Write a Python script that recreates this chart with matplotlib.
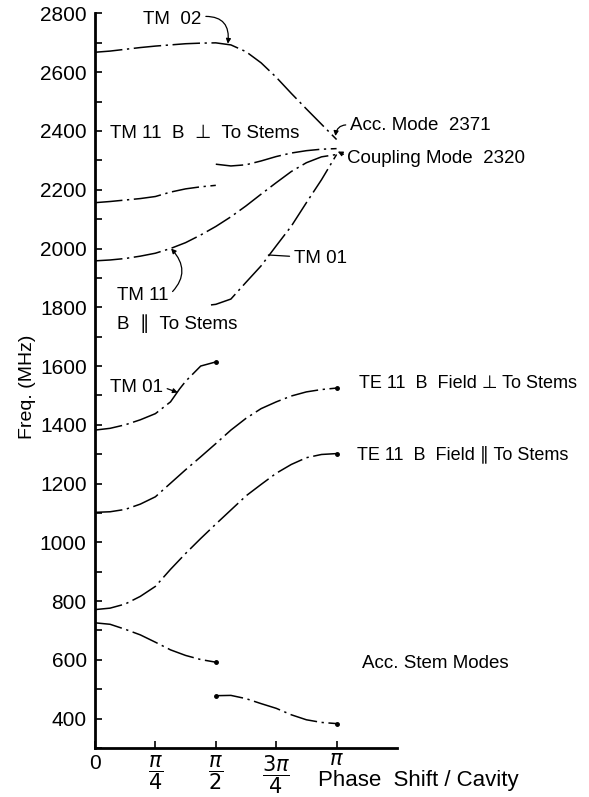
import matplotlib
matplotlib.use('Agg')
import matplotlib.pyplot as plt
import matplotlib.transforms as mtransforms
from matplotlib.ticker import MultipleLocator

plt.rcParams['font.family'] = ['Liberation Sans', 'DejaVu Sans']
plt.rcParams['mathtext.fontset'] = 'dejavusans'

# phase shift is in units of pi/4, frequency in MHz
tm02_x = [0, 0.25, 0.5, 0.75, 1, 1.25, 1.5, 1.75, 2, 2.25, 2.5, 2.75, 3, 3.25, 3.5, 3.75, 4]
tm02_y = [2668, 2672, 2678, 2684, 2689, 2693, 2697, 2699, 2700, 2693, 2670, 2632,
          2583, 2528, 2475, 2423, 2371]

tm11_perp_a_x = [0, 0.25, 0.5, 0.75, 1, 1.25, 1.5, 1.75, 2]
tm11_perp_a_y = [2156, 2160, 2165, 2170, 2177, 2192, 2203, 2210, 2215]
tm11_perp_b_x = [2, 2.25, 2.5, 2.75, 3, 3.25, 3.5, 3.75, 4]
tm11_perp_b_y = [2287, 2281, 2285, 2298, 2313, 2325, 2333, 2338, 2340]

tm11_par_x = [0, 0.25, 0.5, 0.75, 1, 1.25, 1.5, 1.75, 2, 2.25, 2.5, 2.75, 3, 3.25, 3.5, 3.75, 4]
tm11_par_y = [1958, 1961, 1966, 1974, 1984, 2000, 2020, 2046, 2075, 2108, 2145, 2185,
              2224, 2262, 2292, 2312, 2320]

tm01_hi_x = [1.92, 2, 2.25, 2.5, 2.75, 3, 3.25, 3.5, 3.75, 4]
tm01_hi_y = [1808, 1810, 1828, 1885, 1941, 2009, 2076, 2156, 2234, 2320]

tm01_lo_x = [0, 0.25, 0.5, 0.75, 1, 1.25, 1.4, 1.5, 1.75, 2]
tm01_lo_y = [1382, 1388, 1400, 1417, 1438, 1478, 1522, 1548, 1600, 1614]

te11_perp_x = [0, 0.25, 0.5, 0.75, 1, 1.25, 1.5, 1.75, 2, 2.25, 2.5, 2.75, 3, 3.25, 3.5, 3.75, 4]
te11_perp_y = [1102, 1104, 1112, 1130, 1155, 1201, 1247, 1291, 1336, 1382, 1422, 1455,
               1478, 1498, 1512, 1520, 1525]

te11_par_x = [0, 0.25, 0.5, 0.75, 1, 1.25, 1.5, 1.75, 2, 2.25, 2.5, 2.75, 3, 3.25, 3.5, 3.75, 4]
te11_par_y = [771, 776, 790, 816, 850, 908, 962, 1013, 1062, 1110, 1158, 1197,
              1235, 1265, 1288, 1299, 1302]

stem_a_x = [0, 0.25, 0.5, 0.75, 1, 1.25, 1.5, 1.75, 2]
stem_a_y = [726, 721, 704, 685, 660, 634, 615, 601, 592]
stem_b_x = [2, 2.25, 2.5, 2.75, 3, 3.25, 3.5, 3.75, 4]
stem_b_y = [478, 479, 468, 451, 435, 413, 396, 387, 383]

x_ticks = [0, 1, 2, 3, 4]
x_tick_labels = ['0', r'$\dfrac{\pi}{4}$', r'$\dfrac{\pi}{2}$', r'$\dfrac{3\pi}{4}$', r'$\pi$']
y_ticks = list(range(400, 2801, 200))

dash = (0, (18, 3, 1.5, 3))


def curve(ax, x, y, ends=None):
    ax.plot(x, y, color='black', lw=1.1, linestyle=dash)
    if ends is not None:
        ax.plot([x[i] for i in ends], [y[i] for i in ends], 'o',
                color='black', markersize=2.5)


def label(ax, text, xy, xytext, rad, relpos, head=True):
    ax.annotate(text, xy=xy, xytext=xytext, ha='left', va='center',
                fontsize=13.5,
                arrowprops=dict(arrowstyle='-|>' if head else '-',
                                connectionstyle='arc3,rad=%s' % rad,
                                color='black', lw=0.9, mutation_scale=7,
                                relpos=relpos, shrinkA=1, shrinkB=0))


fig = plt.figure(figsize=(5.89, 7.97), dpi=100)
ax = fig.add_axes([0.1613, 0.0615, 0.5127, 0.9216])

curve(ax, tm02_x, tm02_y)
curve(ax, tm11_perp_a_x, tm11_perp_a_y)
curve(ax, tm11_perp_b_x, tm11_perp_b_y)
curve(ax, tm11_par_x, tm11_par_y)
curve(ax, tm01_hi_x, tm01_hi_y)
curve(ax, tm01_lo_x, tm01_lo_y, ends=[-1])
curve(ax, te11_perp_x, te11_perp_y, ends=[-1])
curve(ax, te11_par_x, te11_par_y, ends=[-1])
curve(ax, stem_a_x, stem_a_y, ends=[-1])
curve(ax, stem_b_x, stem_b_y, ends=[0, -1])

ax.set_xlim(0, 5)
ax.set_ylim(300, 2800)
ax.set_xticks(x_ticks)
ax.set_xticklabels(x_tick_labels)
ax.set_yticks(y_ticks)
ax.yaxis.set_minor_locator(MultipleLocator(100))
ax.tick_params(which='both', direction='in', length=5, width=1.2, labelsize=15)
ax.tick_params(axis='y', pad=6)
ax.tick_params(axis='x', pad=4)
for side in ['top', 'right']:
    ax.spines[side].set_visible(False)
for side in ['left', 'bottom']:
    ax.spines[side].set_linewidth(2)

# lone pi sits level with the numerators of the fractions
pi_label = ax.get_xticklabels()[-1]
pi_label.set_transform(pi_label.get_transform() +
                       mtransforms.ScaledTranslation(0, 2.5 / 72, fig.dpi_scale_trans))

# curve labels
label(ax, 'TM  02', (2.2, 2697), (0.8, 2778), -0.6, (1, 0.7))
ax.text(0.25, 2393, 'TM 11  B  ⊥  To Stems', fontsize=13.5, va='center')
label(ax, 'Acc. Mode  2371', (3.98, 2383), (4.22, 2420), 0.5, (0, 0.5))
label(ax, 'Coupling Mode  2320', (4.02, 2330), (4.18, 2308), 0.0, (0, 0.6))
label(ax, 'TM 01', (2.87, 1978), (3.29, 1967), 0.0, (0, 0.6), head=False)
label(ax, 'TM 11', (1.26, 2000), (0.37, 1841), 0.5, (1, 0.5))
ax.text(0.37, 1746, 'B  ∥  To Stems', fontsize=13.5, va='center')
label(ax, 'TM 01', (1.37, 1510), (0.25, 1528), 0.0, (1, 0.5))
ax.text(4.37, 1541, 'TE 11  B  Field ⊥ To Stems', fontsize=13, va='center')
ax.text(4.33, 1300, 'TE 11  B  Field ∥ To Stems', fontsize=13, va='center')
ax.text(4.42, 587, 'Acc. Stem Modes', fontsize=13.5, va='center')
ax.text(3.70, 190, 'Phase  Shift / Cavity', fontsize=16, va='center')

fig.text(28 / 589, 1 - 387 / 797, 'Freq. (MHz)', rotation=90,
         fontsize=14, ha='center', va='center')

fig.savefig('out.png', dpi=100)
